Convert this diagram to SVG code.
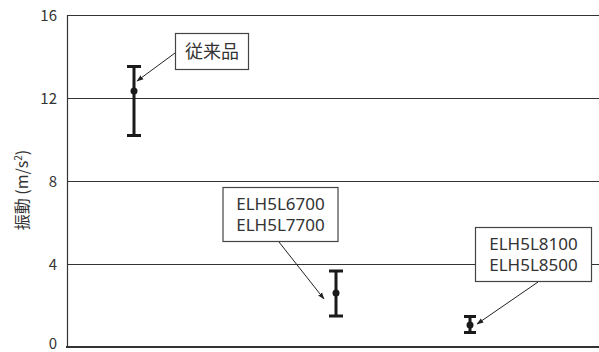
<svg xmlns="http://www.w3.org/2000/svg" width="599" height="352" viewBox="0 0 599 352">
<style>
text{font-family:"Noto Sans CJK JP","Noto Sans",sans-serif;fill:#333}
.tick{font-size:15px;text-anchor:end}
.grid{stroke:#333;stroke-width:1.2;fill:none}
.bar{stroke:#1a1a1a;stroke-width:3;fill:none}
.box{fill:#fff;stroke:#444;stroke-width:1.2}
.lbl{font-size:17px;font-family:"Noto Sans",sans-serif}
.lead{stroke:#222;stroke-width:1;fill:none;marker-end:url(#ah)}
</style>
<defs>
<marker id="ah" viewBox="0 0 10 10" refX="9" refY="5" markerWidth="7" markerHeight="7" orient="auto" markerUnits="userSpaceOnUse">
<path d="M0,1.5 L10,5 L0,8.5 z" fill="#222"/>
</marker>
</defs>
<g id="axes">
<line class="grid" x1="67" y1="15.5" x2="599" y2="15.5"/>
<line class="grid" x1="67" y1="98.5" x2="599" y2="98.5"/>
<line class="grid" x1="67" y1="181.5" x2="599" y2="181.5"/>
<line class="grid" x1="67" y1="264.5" x2="599" y2="264.5"/>
<line x1="66" y1="347" x2="599" y2="347" stroke="#333" stroke-width="2"/>
<line class="grid" x1="67.5" y1="15" x2="67.5" y2="348"/>
<text class="tick" x="57" y="21">16</text>
<text class="tick" x="57" y="104">12</text>
<text class="tick" x="57" y="187">8</text>
<text class="tick" x="57" y="270">4</text>
<text class="tick" x="57" y="349">0</text>
<text font-size="16" text-anchor="middle" transform="translate(28,190) rotate(-90)">振動 (m/s<tspan font-size="10" dy="-6">2</tspan><tspan dy="6">)</tspan></text>
</g>
<g id="connectors">
<line class="lead" x1="175" y1="53" x2="137" y2="81"/>
<line class="lead" x1="279" y1="242" x2="324" y2="299"/>
<line class="lead" x1="538" y1="282" x2="477" y2="324"/>
</g>
<g id="bar1">
<path class="bar" d="M134,66.5 V135.5 M127,66.5 H141 M127,135.5 H141"/>
<circle cx="134" cy="91" r="3.5" fill="#1a1a1a"/>
</g>
<g id="bar2">
<path class="bar" d="M336,271 V316 M329,271 H343 M329,316 H343"/>
<circle cx="336" cy="293" r="3.5" fill="#1a1a1a"/>
</g>
<g id="bar3">
<path class="bar" d="M470,316.5 V332.5 M464,316.5 H476 M464,332.5 H476"/>
<circle cx="470" cy="325" r="3.5" fill="#1a1a1a"/>
</g>
<g id="label1">
<rect class="box" x="175.5" y="33.5" width="73" height="36"/>
<text x="212" y="58" font-size="18" text-anchor="middle">従来品</text>
</g>
<g id="label2">
<rect class="box" x="223" y="187.5" width="115" height="54"/>
<text class="lbl" x="280.5" y="210" text-anchor="middle">ELH5L6700</text>
<text class="lbl" x="280.5" y="231" text-anchor="middle">ELH5L7700</text>
</g>
<g id="label3">
<rect class="box" x="475.5" y="227.5" width="116" height="54"/>
<text class="lbl" x="533.5" y="250" text-anchor="middle">ELH5L8100</text>
<text class="lbl" x="533.5" y="271" text-anchor="middle">ELH5L8500</text>
</g>
</svg>
